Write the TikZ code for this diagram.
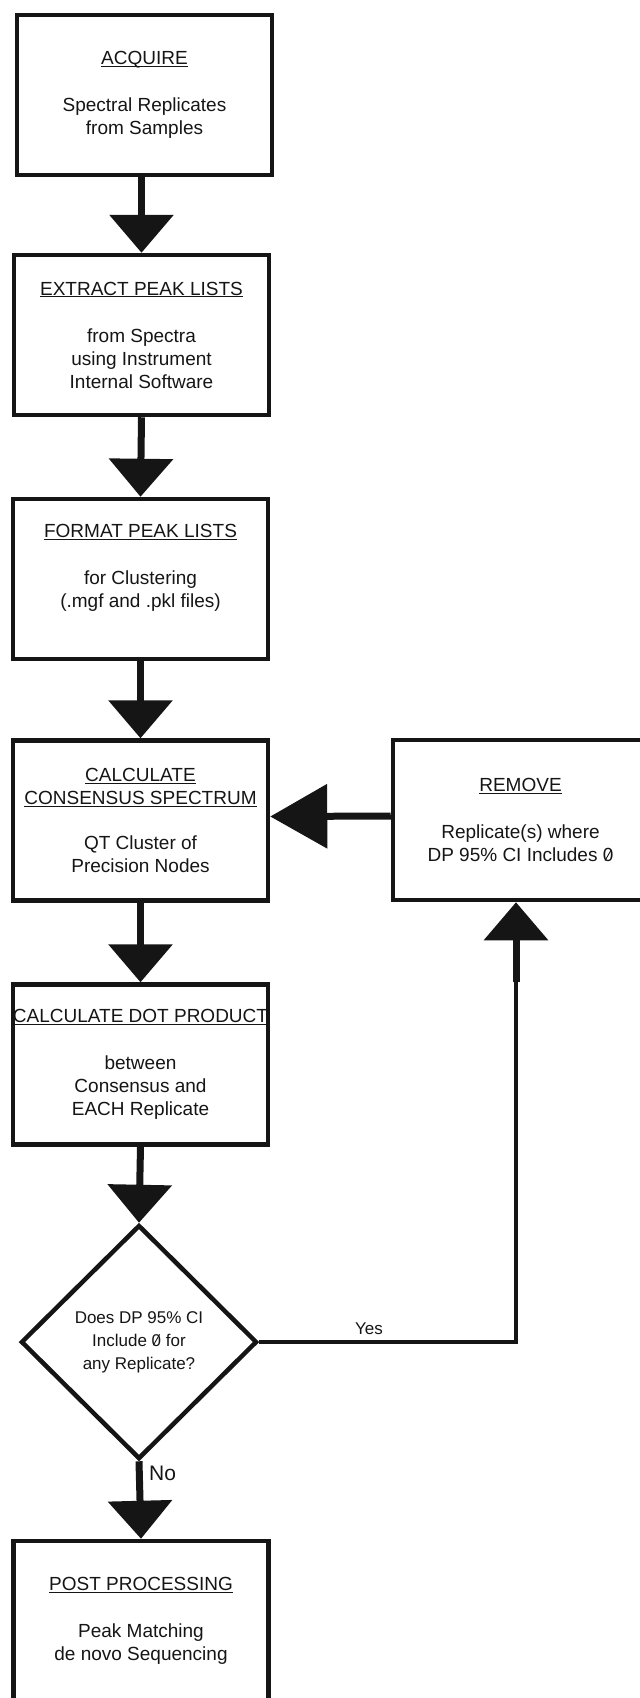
\documentclass[tikz,border=0pt]{standalone}
\usepackage{fontspec}
\setmainfont{Liberation Sans}
\usetikzlibrary{arrows.meta,shapes.geometric}
\definecolor{ink}{HTML}{151515}

% underlined step heading and a slashed zero
\newcommand{\steptitle}[1]{\setbox0=\hbox{#1}\rlap{\rule[-2.2pt]{\wd0}{1.1pt}}\box0}
\newcommand{\slzero}{{\ooalign{0\cr\hidewidth\raisebox{1.2pt}{\rotatebox{-30}{\rule{0.9pt}{12.5pt}}}\hidewidth\cr}}}

\tikzset{
  stepbox/.style={draw=ink, line width=4.5pt, rectangle, minimum width=255pt,
    minimum height=160pt, inner sep=0pt, align=center, text=ink,
    font={\fontsize{19pt}{23pt}\selectfont}},
  decision/.style={draw=ink, line width=4.5pt, diamond, aspect=1, minimum width=236pt,
    minimum height=234pt, inner sep=0pt, align=center, text=ink,
    font={\fontsize{17pt}{23pt}\selectfont}},
  flowline/.style={draw=ink, line width=4.5pt},
  flowarrow/.style={draw=ink, line width=7pt, -{Triangle[width=63pt,length=38pt]}},
  branchlabel/.style={text=ink, inner sep=0pt, font={\fontsize{17pt}{20pt}\selectfont}}
}

\begin{document}
\begin{tikzpicture}[x=1pt,y=-1pt]
\useasboundingbox (0,0) rectangle (640,1698);
% main column of steps
\node[stepbox] (acquire) at (144.5,95) {\steptitle{ACQUIRE}\\[24pt]Spectral Replicates\\from Samples};
\node[stepbox] (extract) at (141.5,335) {\steptitle{EXTRACT PEAK LISTS}\\[24pt]from Spectra\\using Instrument\\Internal Software};
\node[stepbox] (format) at (140.5,579) {\steptitle{FORMAT PEAK LISTS}\\[24pt]for Clustering\\(.mgf and .pkl files)\\[3pt]\mbox{}};
\node[stepbox] (consensus) at (140.5,820.5) {\steptitle{CALCULATE}\\\steptitle{CONSENSUS SPECTRUM}\\[22pt]QT Cluster of\\Precision Nodes};
\node[stepbox] (dotprod) at (140.5,1064.5) {\steptitle{CALCULATE DOT PRODUCT}\\[24pt]between\\Consensus and\\EACH Replicate};
\node[decision] (check) at (139,1342) {Does DP 95\% CI\\Include \slzero{} for\\any Replicate?};
\node[stepbox] (post) at (141,1621) {\steptitle{POST PROCESSING}\\[24pt]Peak Matching\\de novo Sequencing};
% side branch
\node[stepbox] (remove) at (520.5,820) {\steptitle{REMOVE}\\[24pt]Replicate(s) where\\DP 95\% CI Includes \slzero};

% arrows down the column
\draw[flowarrow] (acquire.south -| extract.north) -- (extract.north);
\draw[flowarrow] (extract.south) -- (format.north);
\draw[flowarrow] (format.south) -- (consensus.north);
\draw[flowarrow] (consensus.south) -- (dotprod.north);
\draw[flowarrow] (dotprod.south) -- (check.north);
\draw[flowarrow] (check.south) -- (post.north);
\draw[flowarrow, -{Triangle[width=63pt,length=57pt]}] ([yshift=4pt]remove.west) -- ([yshift=4pt]consensus.east);

% yes: back up to the removal step
\coordinate (turn) at (516,1342);
\coordinate (stub) at (516,982);
\draw[flowline] (check.east) -- (turn) -- (stub);
\draw[flowarrow] (stub) -- (stub |- remove.south);
\node[branchlabel] (yes) at (369,1329) {Yes};
\node[branchlabel, font={\fontsize{21pt}{24pt}\selectfont}, anchor=west] (no) at (149,1473) {No};
\end{tikzpicture}
\end{document}
